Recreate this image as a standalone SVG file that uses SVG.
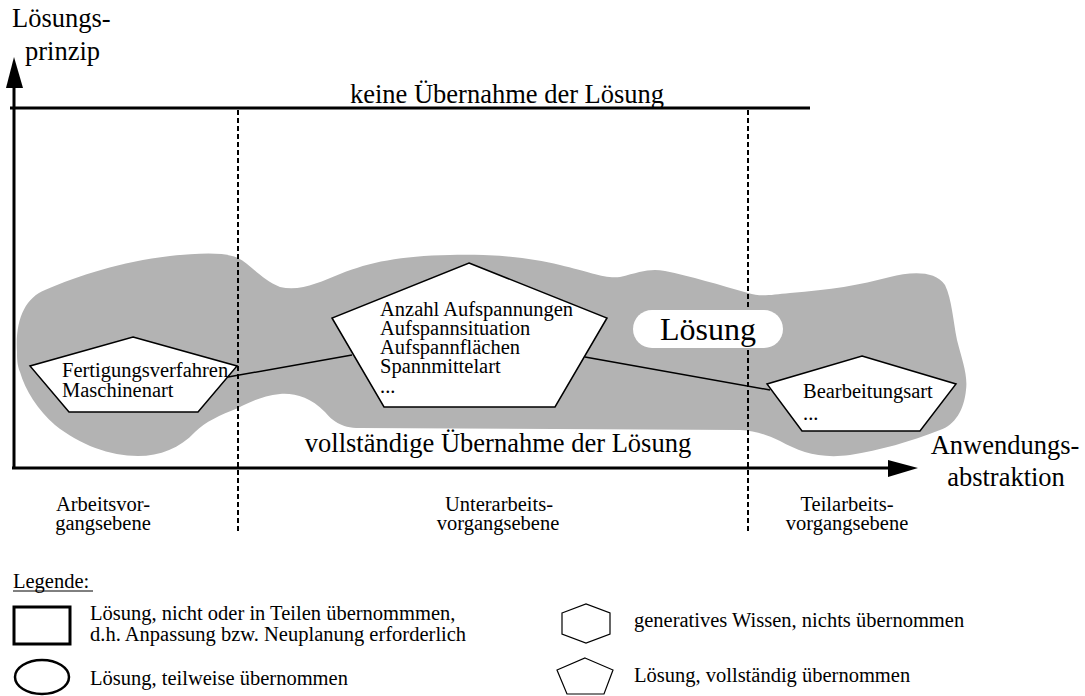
<svg xmlns="http://www.w3.org/2000/svg" width="1085" height="696" viewBox="0 0 1085 696" font-family="'Liberation Serif', Tinos, 'Times New Roman', 'DejaVu Serif', serif">
  <defs>
    <style>
      text { font-family: 'Liberation Serif', Tinos, 'Times New Roman', 'DejaVu Serif', serif; fill: #000; }
      .big { font-size: 26.5px; }
      .small { font-size: 20.5px; }
      .mid { text-anchor: middle; }
      .axis { stroke: #000; stroke-width: 3; fill: none; }
      .dash { stroke: #000; stroke-width: 2; stroke-dasharray: 5 3; fill: none; }
      .link { stroke: #000; stroke-width: 1.5; fill: none; }
      .shape { fill: #fff; stroke: #000; stroke-width: 1.5; }
    </style>
  </defs>

  <!-- solution region -->
  <path id="region" fill="#b3b3b3" d="M 17,352 C 15,320 25,298 45,290 C 80,275 120,262 170,256 C 200,253 225,252 238,258 C 250,264 262,280 280,287 C 300,292 320,282 340,274 C 370,262 400,256 450,255 C 500,254 530,258 560,265 C 590,272 605,279 620,277 C 640,272 650,268 665,271 C 690,276 720,285 748,293 C 760,297 770,295 790,293 C 830,290 860,285 890,277 C 910,272 935,270 945,285 C 952,300 953,320 957,340 C 962,360 968,375 966,390 C 964,410 955,425 940,430 C 910,442 880,450 850,455 C 820,459 800,452 780,441 C 765,434 755,431 740,430 L 360,428 C 340,428 332,420 325,412 C 310,397 295,393 280,394 C 262,396 250,402 238,408 C 220,415 205,422 195,432 C 180,448 160,456 138,456 C 110,456 80,445 55,425 C 38,410 25,390 20,372 C 17,365 17,358 17,352 Z"/>

  <!-- axes and level boundaries -->
  <g id="axes">
    <line class="axis" x1="14" y1="468" x2="14" y2="84"/>
    <polygon points="14,57 6,88 23,88" fill="#000"/>
    <line class="axis" x1="12" y1="468" x2="892" y2="468"/>
    <polygon points="918,468 888,460 888,477" fill="#000"/>
    <line class="axis" x1="10" y1="108" x2="810" y2="108"/>
    <line class="dash" x1="238" y1="110" x2="238" y2="532"/>
    <line class="dash" x1="748" y1="110" x2="748" y2="532"/>
  </g>

  <!-- connectors -->
  <g id="connectors">
    <line class="link" x1="228" y1="377" x2="352" y2="355"/>
    <line class="link" x1="585" y1="357" x2="770" y2="390"/>
  </g>

  <g id="node-arbeitsvorgang">
    <polygon class="shape" points="133,337 237,366 198,412 69,412 30,366"/>
    <text class="small" x="62" y="377">Fertigungsverfahren</text>
    <text class="small" x="62" y="397">Maschinenart</text>
  </g>

  <g id="node-unterarbeitsvorgang">
    <polygon class="shape" points="469,263 607,318 555,407 384,407 332,318"/>
    <text class="small" x="380" y="316">Anzahl Aufspannungen</text>
    <text class="small" x="380" y="335">Aufspannsituation</text>
    <text class="small" x="380" y="354">Aufspannflächen</text>
    <text class="small" x="380" y="373">Spannmittelart</text>
    <text class="small" x="380" y="393">...</text>
  </g>

  <g id="node-teilarbeitsvorgang">
    <polygon class="shape" points="862,356 956,384 920,431 802,431 767,384"/>
    <text class="small" x="803" y="398">Bearbeitungsart</text>
    <text class="small" x="803" y="420">...</text>
  </g>

  <g id="label-loesung">
    <rect x="633" y="310" width="150" height="38" rx="19" fill="#fff"/>
    <text x="708" y="340" class="mid" font-size="32">Lösung</text>
  </g>

  <!-- axis and band labels -->
  <g id="labels">
    <text class="big" x="12" y="27">Lösungs-</text>
    <text class="big" x="25" y="60">prinzip</text>
    <text class="big mid" x="507" y="103">keine Übernahme der Lösung</text>
    <text class="big mid" x="498" y="452">vollständige Übernahme der Lösung</text>
    <text class="big mid" x="1005" y="454">Anwendungs-</text>
    <text class="big mid" x="1006" y="486">abstraktion</text>
    <text class="small mid" x="103" y="511">Arbeitsvor-</text>
    <text class="small mid" x="103" y="530">gangsebene</text>
    <text class="small mid" x="499" y="511">Unterarbeits-</text>
    <text class="small mid" x="498" y="530">vorgangsebene</text>
    <text class="small mid" x="847" y="511">Teilarbeits-</text>
    <text class="small mid" x="847" y="530">vorgangsebene</text>
  </g>

  <!-- legend -->
  <g id="legend">
    <text class="small" x="13" y="588">Legende:</text>
    <line x1="13" y1="591" x2="93" y2="591" stroke="#000" stroke-width="1"/>
    <rect x="14" y="607" width="56" height="37" fill="none" stroke="#000" stroke-width="3"/>
    <text class="small" x="90" y="620">Lösung, nicht oder in Teilen übernommmen,</text>
    <text class="small" x="90" y="641">d.h. Anpassung bzw. Neuplanung erforderlich</text>
    <ellipse cx="42" cy="677" rx="27" ry="17" fill="none" stroke="#000" stroke-width="2.5"/>
    <text class="small" x="90" y="685">Lösung, teilweise übernommen</text>
    <polygon points="562,613 586,604 610,613 610,634 586,643 562,634" fill="none" stroke="#000" stroke-width="1.2"/>
    <text class="small" x="634" y="627">generatives Wissen, nichts übernommen</text>
    <polygon points="585,658 613,670 604,694 567,694 557,670" fill="none" stroke="#000" stroke-width="1.2"/>
    <text class="small" x="634" y="682">Lösung, vollständig übernommen</text>
  </g>
</svg>
